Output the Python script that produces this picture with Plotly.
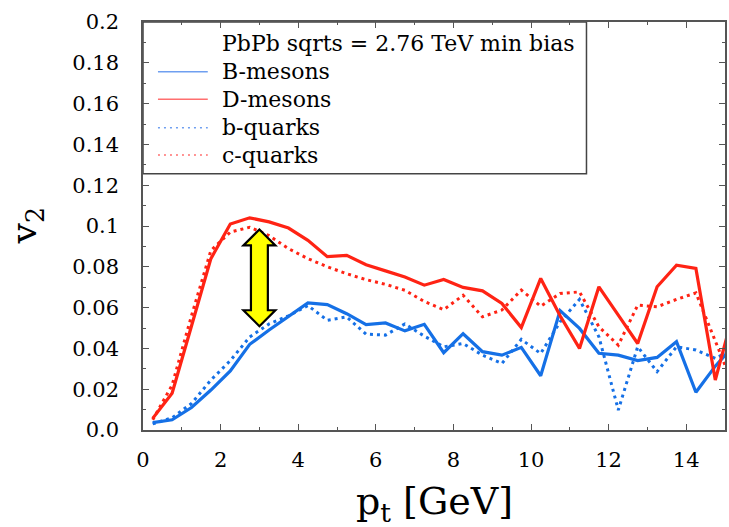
import plotly.graph_objects as go

# ---- data ----
pt = [0.25, 0.75, 1.25, 1.75, 2.25, 2.75, 3.25, 3.75, 4.25, 4.75, 5.25, 5.75,
      6.25, 6.75, 7.25, 7.75, 8.25, 8.75, 9.25, 9.75, 10.25, 10.75, 11.25,
      11.75, 12.25, 12.75, 13.25, 13.75, 14.25, 14.75, 15.25]

B_mesons = [0.0036, 0.005, 0.011, 0.0196, 0.029, 0.042, 0.049, 0.0557, 0.0623,
            0.0615, 0.057, 0.0517, 0.0525, 0.0486, 0.0518, 0.0379, 0.0472,
            0.0384, 0.0367, 0.0405, 0.0266, 0.0585, 0.0498, 0.0376, 0.0367,
            0.034, 0.0356, 0.0433, 0.0185, 0.0313, 0.042]

D_mesons = [0.0057, 0.018, 0.051, 0.084, 0.101, 0.104, 0.102, 0.099, 0.093,
            0.085, 0.0856, 0.081, 0.078, 0.075, 0.071, 0.0738, 0.0699, 0.0682,
            0.062, 0.0502, 0.0743, 0.056, 0.040, 0.0702, 0.0563, 0.0424,
            0.0702, 0.0808, 0.0792, 0.0245, 0.060]

b_quarks = [0.003, 0.006, 0.013, 0.0245, 0.034, 0.0456, 0.052, 0.056, 0.061,
            0.0538, 0.0554, 0.047, 0.0465, 0.052, 0.046, 0.0408, 0.0424,
            0.0367, 0.0326, 0.0444, 0.0375, 0.053, 0.064, 0.0457, 0.0098,
            0.0408, 0.0286, 0.0408, 0.0392, 0.0351, 0.040]

c_quarks = [0.005, 0.022, 0.056, 0.088, 0.097, 0.0994, 0.0953, 0.0889, 0.084,
            0.080, 0.0766, 0.0737, 0.0714, 0.0685, 0.063, 0.059, 0.066, 0.0555,
            0.0588, 0.0686, 0.0607, 0.0669, 0.0677, 0.0506, 0.0416, 0.0612,
            0.0604, 0.064, 0.0672, 0.044, 0.020]

x_tickvals = [0, 2, 4, 6, 8, 10, 12, 14]
x_ticktext = ["0", "2", "4", "6", "8", "10", "12", "14"]
y_tickvals = [0.0, 0.02, 0.04, 0.06, 0.08, 0.1, 0.12, 0.14, 0.16, 0.18, 0.2]
y_ticktext = ["0.0", "0.02", "0.04", "0.06", "0.08", "0.1", "0.12", "0.14",
              "0.16", "0.18", "0.2"]

legend_title = "PbPb sqrts = 2.76 TeV min bias"
series_names = ["B-mesons", "D-mesons", "b-quarks", "c-quarks"]

# ---- styles ----
BLUE = "#1570e6"
RED = "#ff2314"
BLUE_LEG = "#6f9ff0"
RED_LEG = "#ff6f6f"
FONT = "DejaVu Serif"
DOT = "3px,4px"

fig = go.Figure()

fig.add_trace(go.Scatter(x=pt, y=b_quarks, mode="lines", name=series_names[2],
                         line=dict(color=BLUE, width=3, dash=DOT)))
fig.add_trace(go.Scatter(x=pt, y=c_quarks, mode="lines", name=series_names[3],
                         line=dict(color=RED, width=3, dash=DOT)))
fig.add_trace(go.Scatter(x=pt, y=B_mesons, mode="lines", name=series_names[0],
                         line=dict(color=BLUE, width=3.2)))
fig.add_trace(go.Scatter(x=pt, y=D_mesons, mode="lines", name=series_names[1],
                         line=dict(color=RED, width=3.2)))

# double-headed yellow arrow
ax_x, ax_top, ax_bot = 3.0, 0.0983, 0.0509
hw, sw, hh = 0.411, 0.218, 0.0078
path = (f"M {ax_x},{ax_top} L {ax_x+hw},{ax_top-hh} L {ax_x+sw},{ax_top-hh} "
        f"L {ax_x+sw},{ax_bot+hh} L {ax_x+hw},{ax_bot+hh} L {ax_x},{ax_bot} "
        f"L {ax_x-hw},{ax_bot+hh} L {ax_x-sw},{ax_bot+hh} L {ax_x-sw},{ax_top-hh} "
        f"L {ax_x-hw},{ax_top-hh} Z")
fig.add_shape(type="path", path=path, xref="x", yref="y", layer="above",
              fillcolor="#ffff00", line=dict(color="black", width=2.2))

# ---- hand-built legend box (paper coordinates) ----
fig.add_shape(type="rect", xref="paper", yref="paper", x0=0, x1=0.762,
              y0=0.628, y1=1.0, line=dict(color="#444", width=1.5),
              fillcolor="white", layer="below")
row_y = [0.9478, 0.8782, 0.8105, 0.7409, 0.674]
samp_x0, samp_x1, text_x = 0.0257, 0.1113, 0.1318
leg_samples = [(BLUE_LEG, "solid"), (RED_LEG, "solid"),
               (BLUE_LEG, "2px,4px"), (RED_LEG, "2px,4px")]
labels = [legend_title] + series_names
for i, lab in enumerate(labels):
    fig.add_annotation(text=lab, xref="paper", yref="paper", x=text_x,
                       y=row_y[i], xanchor="left", yanchor="middle",
                       showarrow=False,
                       font=dict(family=FONT, size=22, color="black"))
    if i > 0:
        c, d = leg_samples[i - 1]
        fig.add_shape(type="line", xref="paper", yref="paper", x0=samp_x0,
                      x1=samp_x1, y0=row_y[i], y1=row_y[i],
                      line=dict(color=c, width=1.6, dash=d), layer="above")

axis_common = dict(showline=True, linecolor="#555", linewidth=1.5,
                   mirror="ticks", ticks="inside", ticklen=6, tickwidth=1.2,
                   tickcolor="#555", showgrid=False, zeroline=False,
                   tickfont=dict(family=FONT, size=21, color="black"))

fig.update_xaxes(range=[0, 15], tickmode="array", tickvals=x_tickvals,
                 ticktext=x_ticktext, ticklabelstandoff=10,
                 minor=dict(ticks="inside", ticklen=3.5, tickwidth=1.2,
                            tickcolor="#555", dtick=1, tick0=0, showgrid=False),
                 **axis_common)
fig.update_yaxes(range=[0, 0.2], tickmode="array", tickvals=y_tickvals,
                 ticktext=y_ticktext, ticklabelstandoff=18,
                 minor=dict(ticks="inside", ticklen=3.5, tickwidth=1.2,
                            tickcolor="#555", dtick=0.01, tick0=0, showgrid=False),
                 **axis_common)

fig.add_annotation(text="p<sub>t</sub> [GeV]", xref="paper", yref="paper",
                   x=0.5, y=-0.18, xanchor="center", yanchor="middle",
                   showarrow=False, font=dict(family=FONT, size=38, color="black"))
fig.add_annotation(text="v<sub>2</sub>", xref="paper", yref="paper",
                   x=-0.2003, y=0.5, xanchor="center", yanchor="middle",
                   textangle=-90, showarrow=False,
                   font=dict(family=FONT, size=36, color="black"))

fig.update_layout(
    width=729, height=527,
    margin=dict(l=143, r=2, t=22, b=97),
    paper_bgcolor="white", plot_bgcolor="white",
    showlegend=False,
)

fig.write_html("out.html")
